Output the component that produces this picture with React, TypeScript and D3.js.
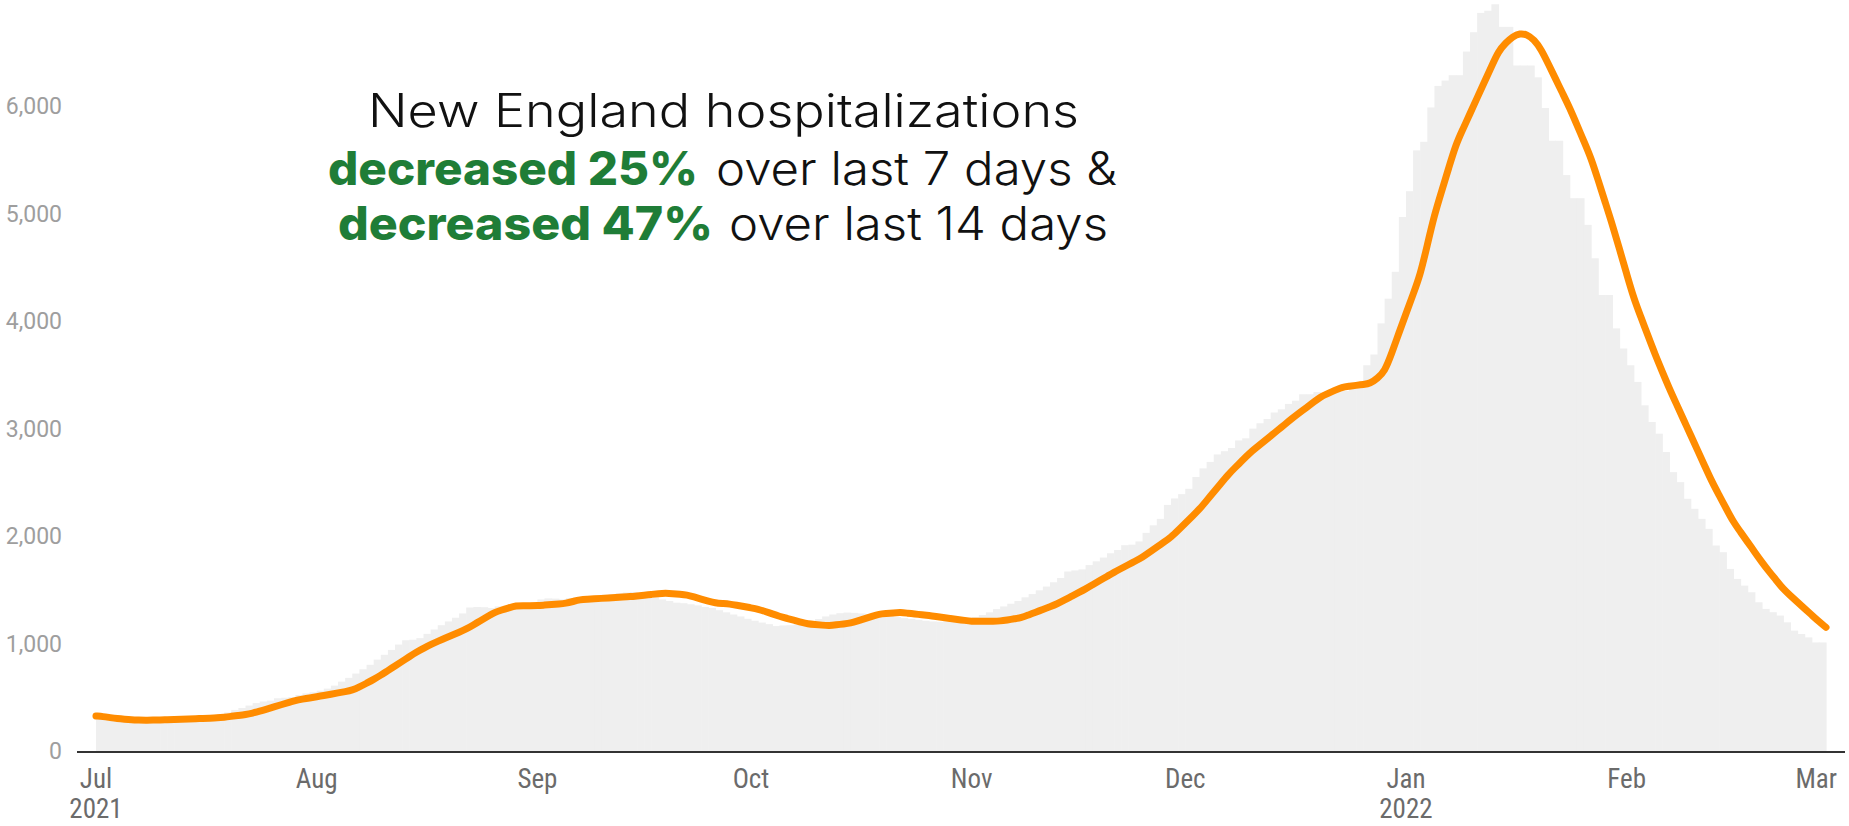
import React from "react";
import * as d3 from "d3";

// daily hospitalizations, New England, starting Jul 1 2021
const startDate = "2021-07-01";

const dailyHosp = [
  318, 300, 290, 292, 305, 298, 296, 310, 302, 312,
  306, 318, 320, 312, 330, 338, 345, 352, 368, 392,
  410, 432, 455, 470, 478, 500, 505, 510, 530, 545,
  556, 570, 590, 618, 655, 690, 730, 770, 812, 860,
  905, 950, 1000, 1040, 1045, 1060, 1100, 1140, 1180, 1215,
  1250, 1290, 1345, 1350, 1348, 1340, 1355, 1360, 1372, 1380,
  1388, 1395, 1420, 1430, 1428, 1420, 1432, 1440, 1445, 1450,
  1452, 1465, 1470, 1478, 1485, 1490, 1470, 1455, 1440, 1420,
  1405, 1390, 1385, 1375, 1365, 1350, 1340, 1320, 1300, 1280,
  1262, 1240, 1222, 1205, 1190, 1172, 1178, 1180, 1188, 1200,
  1215, 1238, 1262, 1280, 1292, 1298, 1295, 1290, 1285, 1278,
  1270, 1262, 1255, 1246, 1238, 1230, 1222, 1215, 1212, 1218,
  1220, 1225, 1238, 1255, 1275, 1300, 1330, 1355, 1380, 1405,
  1440, 1470, 1505, 1540, 1580, 1620, 1680, 1690, 1700, 1740,
  1775, 1810, 1850, 1880, 1925, 1930, 1960, 2040, 2110, 2170,
  2300, 2360, 2400, 2450, 2560, 2640, 2700, 2770, 2800, 2830,
  2900, 2920, 3010, 3060, 3100, 3160, 3190, 3240, 3270, 3330,
  3330, 3350, 3340, 3330, 3350, 3360, 3380, 3400, 3600, 3700,
  3990, 4220, 4470, 4980, 5220, 5600, 5680, 6000, 6200, 6250,
  6300, 6300, 6520, 6700, 6880, 6900, 6960, 6750, 6750, 6390,
  6390, 6390, 6280, 5995, 5690, 5690, 5370, 5155, 5155, 4907,
  4596, 4254, 4254, 3943, 3756, 3600, 3445, 3227, 3072, 2963,
  2792, 2605, 2512, 2357, 2264, 2170, 2077, 1922, 1860, 1704,
  1611, 1549, 1487, 1394, 1332, 1301, 1270, 1207, 1130, 1098,
  1067, 1020, 1020,
];

// 7-day average (orange line), same start date
const avg7 = [
  336, 330, 320, 311, 305, 300, 298, 296, 297, 299,
  301, 303, 305, 307, 310, 312, 315, 318, 324, 332,
  340, 348, 362, 380, 400, 420, 440, 460, 480, 492,
  503, 515, 526, 538, 550, 562, 575, 605, 640, 675,
  715, 758, 800, 843, 887, 930, 965, 1000, 1030, 1058,
  1087, 1115, 1144, 1183, 1222, 1261, 1300, 1322, 1342, 1362,
  1362, 1362, 1362, 1368, 1373, 1378, 1384, 1401, 1418, 1422,
  1426, 1430, 1434, 1438, 1442, 1446, 1453, 1460, 1467, 1474,
  1480, 1474, 1468, 1462, 1443, 1424, 1405, 1387, 1382, 1378,
  1366, 1354, 1342, 1330, 1308, 1285, 1263, 1245, 1227, 1209,
  1191, 1186, 1181, 1176, 1184, 1192, 1200, 1221, 1242, 1263,
  1284, 1289, 1295, 1300, 1292, 1285, 1277, 1270, 1261, 1252,
  1243, 1234, 1225, 1216, 1217, 1218, 1218, 1219, 1229, 1240,
  1250, 1276, 1301, 1327, 1352, 1378, 1413, 1448, 1483, 1518,
  1557, 1596, 1634, 1673, 1708, 1743, 1778, 1813, 1860, 1907,
  1953, 2000, 2065, 2130, 2195, 2260, 2340, 2420, 2500, 2580,
  2647, 2713, 2780, 2834, 2888, 2942, 2996, 3050, 3104, 3155,
  3205, 3256, 3306, 3336, 3366, 3395, 3404, 3413, 3421, 3430,
  3480, 3540, 3710, 3900, 4080, 4260, 4440, 4720, 5000, 5218,
  5435, 5653, 5798, 5944, 6089, 6234, 6379, 6524, 6600, 6660,
  6690, 6680, 6630, 6540, 6404, 6268, 6131, 5995, 5840, 5684,
  5529, 5322, 5114, 4907, 4679, 4451, 4223, 4049, 3874, 3700,
  3541, 3383, 3238, 3093, 2948, 2803, 2658, 2513, 2389, 2264,
  2140, 2047, 1954, 1860, 1767, 1680, 1600, 1516, 1455, 1395,
  1335, 1275, 1215, 1160,
];

const yTicks = [0, 1000, 2000, 3000, 4000, 5000, 6000];
const monthTicks = [
  "2021-07-01", "2021-08-01", "2021-09-01", "2021-10-01", "2021-11-01",
  "2021-12-01", "2022-01-01", "2022-02-01", "2022-03-01",
];
const monthLabels = ["Jul", "Aug", "Sep", "Oct", "Nov", "Dec", "Jan", "Feb", "Mar"];
const yearLabels = ["2021", "", "", "", "", "", "2022", "", ""];

const width = 1849;
const height = 826;
const orange = "#ff8c00";
const green = "#1f7d37";

const App: React.FC = () => {
  const parse = d3.utcParse("%Y-%m-%d");
  const t0 = parse(startDate) as Date;
  const day = (i: number) => d3.utcDay.offset(t0, i);

  const x = d3
    .scaleUtc()
    .domain([t0, day(dailyHosp.length)])
    .range([96, 1826]);
  const y = d3.scaleLinear().domain([0, 7000]).range([752, 0]);

  const line = d3
    .line<number>()
    .x((_, i) => x(day(i)))
    .y((d) => y(d))
    .curve(d3.curveBasis);

  const fmt = d3.format(",");
  const axisFont = "Roboto, 'Noto Sans', sans-serif";
  const narrowFont = "'Liberation Sans Narrow', 'Roboto Condensed', Roboto, sans-serif";
  const titleFont = "Inter, 'Noto Sans', sans-serif";

  return (
    <svg
      width={width}
      height={height}
      style={{ position: "absolute", left: 0, top: 0, display: "block", background: "#fff" }}
    >
      {/* daily bars */}
      <g>
        {dailyHosp.map((v, i) => {
          const x0 = x(day(i));
          const x1 = x(day(i + 1));
          return (
            <rect
              key={i}
              x={x0}
              y={y(v)}
              width={x1 - x0 + 0.6}
              height={y(0) - y(v)}
              fill="#efefef"
            />
          );
        })}
      </g>

      {/* baseline */}
      <line x1={77} x2={1845} y1={y(0)} y2={y(0)} stroke="#333" strokeWidth={2} />

      {/* y labels */}
      <g fontFamily={axisFont} fontSize={23} fill="#9e9e9e" textAnchor="end">
        {yTicks.map((t) => (
          <text key={t} x={62} y={y(t) + 7}>
            {fmt(t)}
          </text>
        ))}
      </g>

      {/* x labels */}
      <g fontFamily={narrowFont} fontSize={27} fill="#6b6b6b">
        {monthTicks.map((m, i) => {
          const tx = x(parse(m) as Date);
          const last = tx > width - 40;
          return (
            <g key={m}>
              <text x={last ? 1837 : tx} y={788} textAnchor={last ? "end" : "middle"}>
                {monthLabels[i]}
              </text>
              {yearLabels[i] && (
                <text x={tx} y={818} textAnchor="middle">
                  {yearLabels[i]}
                </text>
              )}
            </g>
          );
        })}
      </g>

      {/* 7-day average */}
      <path
        d={line(avg7) || ""}
        fill="none"
        stroke={orange}
        strokeWidth={7}
        strokeLinecap="round"
        strokeLinejoin="round"
      />

      {/* headline */}
      <g fontFamily={titleFont} fontSize={46} fill="#111">
        <text x={368} y={127} textLength={711} lengthAdjust="spacingAndGlyphs" fontWeight={300}>
          New England hospitalizations
        </text>
        <text x={328} y={185} textLength={370} lengthAdjust="spacingAndGlyphs" fontWeight={800} fill={green}>
          decreased 25%
        </text>
        <text x={716} y={185} textLength={401} lengthAdjust="spacingAndGlyphs" fontWeight={300}>
          over last 7 days &amp;
        </text>
        <text x={338} y={240} textLength={375} lengthAdjust="spacingAndGlyphs" fontWeight={800} fill={green}>
          decreased 47%
        </text>
        <text x={729} y={240} textLength={379} lengthAdjust="spacingAndGlyphs" fontWeight={300}>
          over last 14 days
        </text>
      </g>
    </svg>
  );
};

export default App;
